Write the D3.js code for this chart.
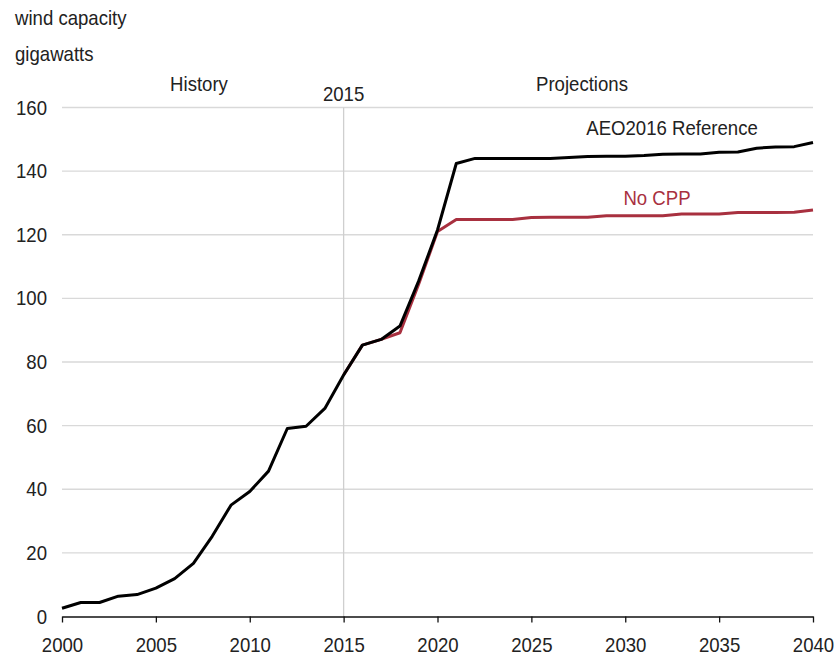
<!DOCTYPE html>
<html><head><meta charset="utf-8">
<script src="https://cdn.jsdelivr.net/npm/d3@7"></script>
<style>body{margin:0;background:#fff}svg{display:block}text{font-family:"Liberation Sans",Arial,sans-serif;fill:#222}</style>
</head><body><svg id="c" width="835" height="655"></svg>
<script>
const histYears = [2000,2001,2002,2003,2004,2005,2006,2007,2008,2009,2010,2011,2012,2013,2014,2015];
const histValues = [2.6,4.4,4.4,6.4,6.9,8.9,11.9,16.7,25.2,35.0,39.3,45.7,59.1,59.8,65.4,75.9];
const projYears = [2016,2017,2018,2019,2020,2021,2022,2023,2024,2025,2026,2027,2028,2029,2030,2031,2032,2033,2034,2035,2036,2037,2038,2039,2040];
const refValues = [85.3,87.1,91.3,105.5,121.5,142.4,144.0,144.0,144.0,144.0,144.0,144.3,144.6,144.7,144.7,144.9,145.3,145.4,145.4,145.9,146.0,147.2,147.6,147.7,149.0];
const noCppValues = [85.3,87.1,89.2,104.5,121.0,124.8,124.8,124.8,124.8,125.4,125.5,125.5,125.5,126.0,126.0,126.0,126.0,126.5,126.5,126.5,127.0,127.0,127.0,127.1,127.8];
const yTicks = [0,20,40,60,80,100,120,140,160];
const xTicks = [2000,2005,2010,2015,2020,2025,2030,2035,2040];

const FS = "20px", SX = 0.93;
const svg = d3.select("#c");
const x = d3.scaleLinear().domain([2000,2040]).range([62,813]);
const y = d3.scaleLinear().domain([0,160]).range([616.5,107.5]);

function label(px, py, txt, anchor, color){
  return svg.append("text")
    .attr("transform",`translate(${px},${py}) scale(${SX},1)`)
    .attr("text-anchor",anchor||"start")
    .style("font-size",FS).style("fill",color||"#222").text(txt);
}

// gridlines
svg.append("g").selectAll("line").data(yTicks.filter(d=>d>0)).join("line")
  .attr("x1",x(2000)).attr("x2",x(2040)).attr("y1",d=>y(d)).attr("y2",d=>y(d))
  .attr("stroke","#d9d9d9").attr("stroke-width",1.3);
// 2015 divider
svg.append("line").attr("x1",x(2015)).attr("x2",x(2015)).attr("y1",y(160)).attr("y2",y(0))
  .attr("stroke","#cfcfcf").attr("stroke-width",1.3);

// y labels
yTicks.forEach(d=>label(47, y(d)+7, d, "end"));

// x axis
const xa = svg.append("g").attr("transform",`translate(0,${y(0)})`)
  .call(d3.axisBottom(x).tickValues(xTicks).tickFormat(d3.format("d")).tickSize(6).tickSizeOuter(0));
xa.select(".domain").attr("stroke","#111").attr("stroke-width",1.6);
xa.selectAll(".tick line").attr("stroke","#111").attr("stroke-width",1.3);
xa.selectAll(".tick text").attr("y",0).attr("dy",0)
  .attr("transform",`translate(0,35) scale(${SX},1)`)
  .style("font-size",FS).style("font-family","'Liberation Sans',Arial,sans-serif").attr("fill","#222");

const line = d3.line().x(d=>x(d[0])).y(d=>y(d[1]));
const histPts = histYears.map((yr,i)=>[yr,histValues[i]]);
const last = histPts[histPts.length-1];
const noCppPts = [last].concat(projYears.map((yr,i)=>[yr,noCppValues[i]]));
const refPts = histPts.concat(projYears.map((yr,i)=>[yr,refValues[i]]));

svg.append("path").datum(noCppPts).attr("d",line).attr("fill","none")
  .attr("stroke","#a8303f").attr("stroke-width",3).attr("stroke-linejoin","round");
svg.append("path").datum(refPts).attr("d",line).attr("fill","none")
  .attr("stroke","#000").attr("stroke-width",3).attr("stroke-linejoin","round");

// titles
label(15, 25, "wind capacity");
label(15, 61, "gigawatts");
label(199, 91, "History", "middle");
label(x(2015), 101, "2015", "middle");
label(582, 91, "Projections", "middle");
label(672, 135, "AEO2016 Reference", "middle");
label(657, 205, "No CPP", "middle", "#a8303f");
</script></body></html>
